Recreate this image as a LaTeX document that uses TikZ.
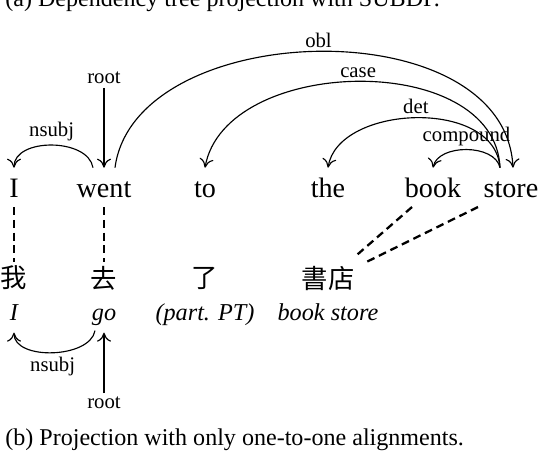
\documentclass[tikz,border=0pt]{standalone}
\usepackage{fontspec}
\setmainfont{Liberation Serif}
\newfontfamily\cjkfont{Noto Sans CJK TC}
\usetikzlibrary{arrows.meta,calc}
\tikzset{
  dp word/.style={font=\fontsize{16}{18}\selectfont, anchor=base, inner sep=5.5pt,
    text height=11pt, text depth=0pt},
  dp zh/.style={font=\cjkfont\fontsize{15}{17}\selectfont, inner sep=0pt, minimum height=18pt},
  dp gloss/.style={font=\itshape\fontsize{13.8}{16}\selectfont, anchor=base, inner sep=7pt,
    text height=9pt, text depth=0pt},
  dp label/.style={font=\fontsize{11.8}{13}\selectfont, inner sep=2pt},
  dp arc/.style={-{Computer Modern Rightarrow[length=1.8mm,width=2.8mm]}, line width=0.65pt},
  dp align/.style={line width=1.3pt, dash pattern=on 4.5pt off 2.8pt},
  dp caption/.style={font=\fontsize{13.7}{16}\selectfont, inner sep=0pt}
}

\begin{document}
\begin{tikzpicture}[x=0.02cm, y=0.02cm]
  \useasboundingbox (0,0) rectangle (544,458);
  \node[dp caption, anchor=base west] (capa) at (5,452) {(a) Dependency tree projection with SUBDP.};
  % English sentence
  \node[dp word] (I) at (14,261) {I};
  \node[dp word] (went) at (104,261) {went};
  \node[dp word] (to) at (205,261) {to};
  \node[dp word] (the) at (328,261) {the};
  \node[dp word] (book) at (433,261) {book};
  \node[dp word] (store) at (511,261) {store};
  % Chinese sentence and glosses
  \node[dp zh] (wo) at (14,180) {我};
  \node[dp zh] (qu) at (104,180) {去};
  \node[dp zh] (le) at (205,180) {了};
  \node[dp zh] (shudian) at (328,180) {書店};
  \node[dp gloss] (gI) at (14,138) {I};
  \node[dp gloss] (ggo) at (104,138) {go};
  \node[dp gloss] (gle) at (205,138) {(part. PT)};
  \node[dp gloss] (gbs) at (328,138) {book store};
  % source tree
  \node[dp label] (rootA) at (104,380) {root};
  \draw[dp arc] (rootA) -- (went);
  \draw[dp arc] ($(went.north)+(-11,0)$) .. controls +(-5,30) and +(0,30) .. (I.north)
    node[dp label, midway, above] {nsubj};
  \draw[dp arc] ($(went.north)+(11,0)$) .. controls +(20,150) and +(-8,160) .. ($(store.north)+(2,0)$)
    node[dp label, midway, above] {obl};
  \draw[dp arc] ($(store.north)+(-11,0)$) .. controls +(-5,118) and +(20,112) .. (to.north)
    node[dp label, midway, above] {case};
  \draw[dp arc] ($(store.north)+(-11,0)$) .. controls +(-5,70) and +(10,63) .. (the.north)
    node[dp label, midway, above] {det};
  \draw[dp arc] ($(store.north)+(-11,0)$) .. controls +(-5,24) and +(5,24) .. (book.north)
    node[dp label, midway, above] {compound};
  % alignments
  \draw[dp align] (I) -- (wo);
  \draw[dp align] (went) -- (qu);
  \draw[dp align] ($(book.south)+(-21,0)$) -- ($(shudian.north east)+(0,5)$);
  \draw[dp align] ($(store.south)+(-33,0)$) -- ($(shudian.north east)+(12,0)$);
  % projected tree
  \node[dp label] (rootB) at (104,55) {root};
  \draw[dp arc] (rootB) -- (ggo);
  \draw[dp arc] ($(ggo.south)+(-9,2)$) .. controls +(-5,-28) and +(0,-28) .. (gI.south)
    node[dp label, midway, below] {nsubj};
  \node[dp caption, anchor=west] (capb) at (5,18) {(b) Projection with only one-to-one alignments.};
\end{tikzpicture}
\end{document}
